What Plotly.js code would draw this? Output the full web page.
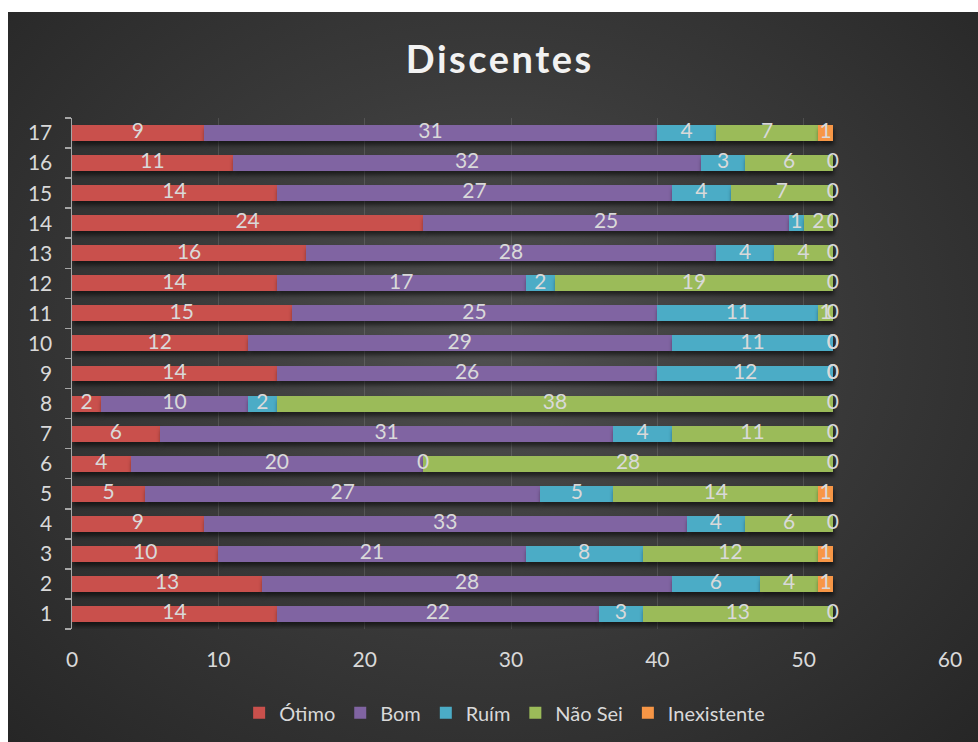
<!DOCTYPE html>
<html>
<head>
<meta charset="utf-8">
<script src="https://cdn.plot.ly/plotly-3.0.1.min.js"></script>
<style>
  html, body { margin: 0; padding: 0; background: #ffffff; }
  #wrap { position: absolute; left: 8px; top: 12px; width: 970px; height: 730px;
    background: radial-gradient(ellipse at 50% 45%, #505050 0%, #3b3b3b 45%, #262626 100%); }
  #chart { width: 970px; height: 730px; }
  .gtitle { letter-spacing: 2.5px; }
  .barlayer .point path { filter: drop-shadow(1px 4px 2px rgba(0,0,0,0.55)); }
</style>
</head>
<body>
<div id="wrap"><div id="chart"></div></div>
<script>
const categories = ['1','2','3','4','5','6','7','8','9','10','11','12','13','14','15','16','17'];
const otimo       = [14, 13, 10,  9,  5,  4,  6,  2, 14, 12, 15, 14, 16, 24, 14, 11,  9];
const bom         = [22, 28, 21, 33, 27, 20, 31, 10, 26, 29, 25, 17, 28, 25, 27, 32, 31];
const ruim        = [ 3,  6,  8,  4,  5,  0,  4,  2, 12, 11, 11,  2,  4,  1,  4,  3,  4];
const naoSei      = [13,  4, 12,  6, 14, 28, 11, 38,  0,  0,  1, 19,  4,  2,  7,  6,  7];
const inexistente = [ 0,  1,  1,  0,  1,  0,  0,  0,  0,  0,  0,  0,  0,  0,  0,  0,  1];
const seriesNames = ['Ótimo', 'Bom', 'Ruím', 'Não Sei', 'Inexistente'];
const seriesColors = ['#c9504c', '#8064a2', '#4bacc6', '#9bbb59', '#f79646'];
const xTicks = [0, 10, 20, 30, 40, 50, 60];

const series = [otimo, bom, ruim, naoSei, inexistente];
const font = 'Lato, "Open Sans", sans-serif';
const txtColor = '#d9d9d9';

const traces = series.map((vals, i) => ({
  type: 'bar', orientation: 'h', name: seriesNames[i],
  y: categories, x: vals,
  marker: { color: seriesColors[i], line: { width: 0 } },
  hoverinfo: 'x+name'
}));

// data labels at segment centers
const lx = [], ly = [], lt = [];
categories.forEach((c, k) => {
  let cum = 0;
  series.forEach((vals) => {
    const v = vals[k];
    lx.push(cum + v / 2); ly.push(c); lt.push(String(v));
    cum += v;
  });
});
traces.push({
  type: 'scatter', mode: 'text', x: lx, y: ly, text: lt,
  textposition: 'middle center',
  textfont: { family: font, size: 21, color: txtColor },
  showlegend: false, hoverinfo: 'skip', cliponaxis: false
});

const layout = {
  width: 970, height: 730,
  paper_bgcolor: 'rgba(0,0,0,0)', plot_bgcolor: 'rgba(0,0,0,0)',
  barmode: 'stack', bargap: 0.47,
  margin: { l: 64, r: 28, t: 106, b: 113, autoexpand: false },
  font: { family: font, color: txtColor, size: 18 },
  title: { text: '<b>Discentes</b>', x: 0.507, xanchor: 'center', y: 0.934, yanchor: 'middle',
    font: { family: font, size: 38, color: '#f2f2f2' } },
  xaxis: {
    range: [0, 60], tickvals: xTicks, ticktext: xTicks.map(String),
    showgrid: true, gridcolor: 'rgba(255,255,255,0.12)', gridwidth: 1,
    zeroline: false, showline: false, ticks: '',
    tickfont: { family: font, size: 21, color: txtColor },
    ticklabelstandoff: 16
  },
  yaxis: {
    type: 'category', categoryorder: 'array', categoryarray: categories,
    range: [-0.5, categories.length - 0.5], autorange: false,
    showgrid: false, zeroline: false,
    showline: true, linecolor: '#a6a6a6', linewidth: 1.5,
    ticks: 'outside', tickson: 'boundaries', ticklen: 6, tickcolor: '#a6a6a6', tickwidth: 1.5,
    tickfont: { family: font, size: 21, color: txtColor },
    ticklabelstandoff: 14
  },
  legend: {
    orientation: 'h', x: 0.512, xanchor: 'center', xref: 'container',
    y: 0.04, yanchor: 'middle', yref: 'container',
    font: { family: font, size: 20, color: txtColor },
    itemwidth: 30, traceorder: 'normal'
  },
  showlegend: true
};

Plotly.newPlot('chart', traces, layout, { displayModeBar: false, staticPlot: true });
</script>
</body>
</html>
